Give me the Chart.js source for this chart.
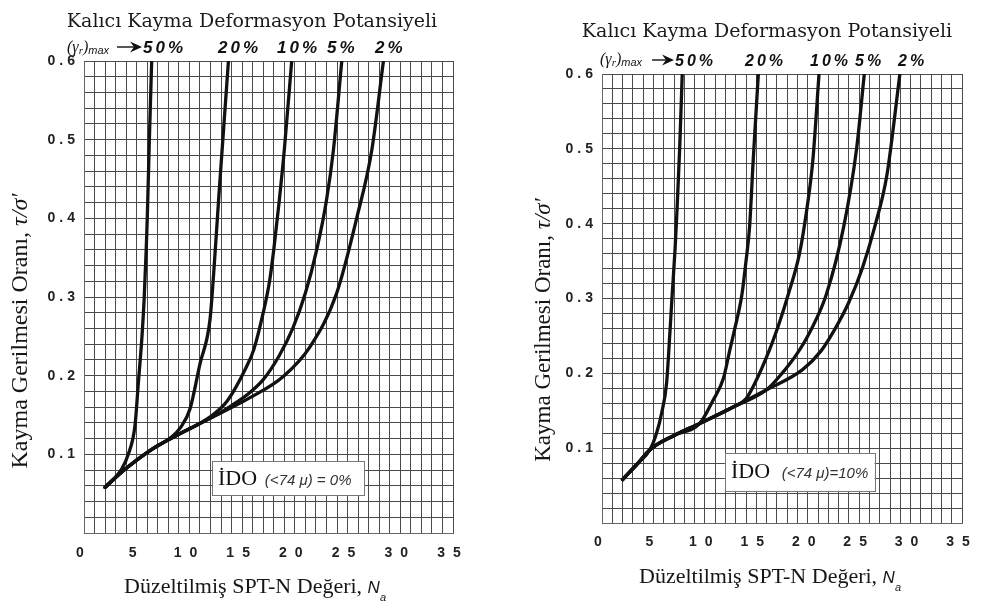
<!DOCTYPE html>
<html><head><meta charset="utf-8">
<script src="https://cdn.jsdelivr.net/npm/chart.js@4"></script>
<style>
html,body{margin:0;padding:0;background:#fff;width:981px;height:604px;overflow:hidden}
.box{position:absolute;top:0;height:604px}
#b1{left:0;width:490px}
#b2{left:490px;width:491px}
canvas{display:block}
</style></head><body>
<div class="box" id="b1"><canvas id="c1" width="490" height="604"></canvas></div>
<div class="box" id="b2"><canvas id="c2" width="491" height="604"></canvas></div>
<script>
// ---- data ----
const curveLabels = ['50%', '20%', '10%', '5%', '2%'];
const xTickLabels = ['0', '5', '10', '15', '20', '25', '30', '35'];
const yTickLabels = ['0.1', '0.2', '0.3', '0.4', '0.5', '0.6'];
const fineLabels = ['İDO', '(<74 μ) = 0%', '(<74 μ)=10%'];

// left chart: İDO (<74 μ) = 0%   [N_a, τ/σ']
const left50 = [[2,0.058],[3.6,0.082],[4.2,0.1],[4.84,0.137],[5.15,0.19],[5.5,0.25],[5.7,0.296],[5.9,0.36],[6.0,0.4],[6.2,0.5],[6.42,0.6]];
const left20 = [[2,0.058],[3.8,0.08],[6.33,0.1055],[8.3,0.122],[9.2,0.135],[10.06,0.158],[11.0,0.215],[11.95,0.271],[12.3,0.33],[12.8,0.43],[13.7,0.6]];
const left10 = [[2,0.058],[3.8,0.08],[6.33,0.1055],[8.86,0.1246],[12,0.148],[13.6,0.168],[15.4,0.211],[16.1,0.233],[17.0,0.28],[17.6,0.32],[18.0,0.36],[18.5,0.42],[19.0,0.487],[19.7,0.6]];
const left5 = [[2,0.058],[3.8,0.08],[6.33,0.1055],[8.86,0.1246],[12,0.146],[14,0.162],[15.4,0.175],[17.0,0.195],[18.5,0.225],[19.8,0.26],[21.0,0.305],[22.07,0.36],[23.0,0.423],[23.66,0.487],[24.45,0.6]];
const left2 = [[2,0.058],[3.8,0.08],[6.33,0.1055],[8.86,0.1246],[12,0.146],[15.75,0.172],[18.9,0.199],[21.45,0.237],[23.97,0.305],[25.9,0.402],[27.3,0.487],[28.4,0.6]];

// right chart: İDO (<74 μ) = 10%
const right50 = [[2,0.058],[3.5,0.08],[4.66,0.098],[5.3,0.12],[5.8,0.147],[6.28,0.187],[6.6,0.254],[6.8,0.3],[7.1,0.365],[7.3,0.42],[7.55,0.5],[7.8,0.6]];
const right20 = [[2,0.058],[3.5,0.08],[4.66,0.098],[7,0.117],[9.5,0.133],[10.8,0.164],[11.8,0.193],[12.44,0.232],[13.0,0.265],[13.6,0.305],[14.0,0.35],[14.35,0.396],[14.7,0.485],[15.2,0.6]];
const right10 = [[2,0.058],[3.5,0.08],[4.66,0.098],[7,0.117],[9.5,0.133],[12.76,0.155],[14.0,0.166],[14.87,0.187],[16.3,0.232],[17.3,0.27],[18.1,0.305],[19.2,0.36],[19.9,0.418],[20.5,0.485],[21.1,0.6]];
const right5 = [[2,0.058],[3.5,0.08],[4.66,0.098],[7,0.117],[9.5,0.133],[12.76,0.155],[16.0,0.178],[17.5,0.2],[18.9,0.225],[20.2,0.255],[21.8,0.305],[23.5,0.396],[24.75,0.5],[25.5,0.6]];
const right2 = [[2,0.058],[3.5,0.08],[4.66,0.098],[7,0.117],[9.5,0.133],[12.76,0.155],[16,0.178],[19.5,0.205],[21.3,0.23],[22.6,0.258],[24.0,0.295],[25.3,0.34],[26.5,0.395],[27.7,0.465],[28.96,0.6]];

// ---- helpers ----
function richWidth(ctx, parts){
  let w = 0;
  for (const p of parts){ ctx.font = p.font; ctx.letterSpacing = (p.ls||0)+'px'; w += ctx.measureText(p.t).width; }
  ctx.letterSpacing = '0px';
  return w;
}
function drawRich(ctx, x, y, parts, align){
  const w = richWidth(ctx, parts);
  let cx = align === 'center' ? x - w/2 : x;
  for (const p of parts){
    ctx.font = p.font; ctx.letterSpacing = (p.ls||0)+'px';
    ctx.fillStyle = p.color || '#161616';
    ctx.textAlign = 'left'; ctx.textBaseline = 'alphabetic';
    ctx.fillText(p.t, cx, y + (p.dy||0));
    cx += ctx.measureText(p.t).width;
  }
  ctx.letterSpacing = '0px';
}

const decoPlugin = {
  id: 'deco',
  beforeDraw(chart, args, o){
    for (const id of Object.keys(chart.scales)){
      const s = chart.scales[id];
      if (s._lsPatched) continue;
      const orig = s.drawLabels;
      const ls = (o.tickLS && o.tickLS[id]) || 0;
      s.drawLabels = function(area){
        const c = this.ctx; c.save(); c.letterSpacing = ls + 'px';
        orig.call(this, area); c.restore(); c.letterSpacing = '0px';
      };
      s._lsPatched = true;
    }
  },
  afterDatasetsDraw(chart, args, o){
    const ctx = chart.ctx, xs = chart.scales.x, ys = chart.scales.y;
    const b = o.box;
    const x0 = xs.getPixelForValue(b.n0), x1 = xs.getPixelForValue(b.n1);
    const y0 = ys.getPixelForValue(b.t1), y1 = ys.getPixelForValue(b.t0);
    ctx.save();
    ctx.fillStyle = '#fff'; ctx.fillRect(x0, y0, x1-x0, y1-y0);
    ctx.strokeStyle = '#777'; ctx.lineWidth = 1;
    ctx.strokeRect(Math.round(x0)+0.5, Math.round(y0)+0.5, Math.round(x1-x0), Math.round(y1-y0));
    drawRich(ctx, x0 + 6, b.base, [
      {t: fineLabels[0], font: '22px "Liberation Serif"', color:'#111'},
      {t: b.gap, font: '14px "Liberation Sans"'},
      {t: b.text, font: 'italic 15px "Liberation Sans"', color:'#333'}
    ], 'left');
    ctx.restore();
  },
  afterDraw(chart, args, o){
    const ctx = chart.ctx;
    ctx.save();
    drawRich(ctx, o.title.x, o.title.y, [{t:'Kalıcı Kayma Deformasyon Potansiyeli', font: o.title.font, color:'#1a1a1a'}], 'center');
    const g = o.gamma;
    drawRich(ctx, g.x, g.y, [
      {t:'(γ', font:'italic 16px "Liberation Serif"'},
      {t:'r', font:'italic 11px "Liberation Serif"', dy:2},
      {t:')', font:'italic 16px "Liberation Serif"'},
      {t:'max', font:'italic 11px "Liberation Sans"', dy:2}
    ], 'left');
    ctx.strokeStyle = '#111'; ctx.fillStyle = '#111'; ctx.lineWidth = 1.4;
    ctx.beginPath(); ctx.moveTo(g.ax0, g.ay); ctx.lineTo(g.ax1 - 8, g.ay); ctx.stroke();
    ctx.beginPath(); ctx.moveTo(g.ax1, g.ay); ctx.lineTo(g.ax1 - 12, g.ay - 5.5); ctx.lineTo(g.ax1 - 8, g.ay); ctx.lineTo(g.ax1 - 12, g.ay + 5.5); ctx.closePath(); ctx.fill();
    curveLabels.forEach((t, i) => {
      drawRich(ctx, o.pct.x[i], o.pct.y, [{t, font: o.pct.font, ls: o.pct.ls, color:'#111'}], 'left');
    });
    ctx.save();
    ctx.translate(o.ytitle.x, o.ytitle.y);
    ctx.rotate(-Math.PI/2);
    drawRich(ctx, 0, 0, [
      {t:'Kayma Gerilmesi Oranı, ', font: o.ytitle.size + 'px "Liberation Serif"'},
      {t:'τ/σ′', font: 'italic ' + o.ytitle.size + 'px "Liberation Serif"'}
    ], 'center');
    ctx.restore();
    drawRich(ctx, o.xtitle.x, o.xtitle.y, [
      {t:'Düzeltilmiş SPT-N Değeri, ', font: o.xtitle.size + 'px "Liberation Serif"'},
      {t:'N', font:'italic 17px "Liberation Sans"'},
      {t:'a', font:'italic 11px "Liberation Sans"', dy:8}
    ], 'center');
    ctx.restore();
  }
};

function makeConfig(series, lay, deco){
  const datasets = series.map((d, i) => ({
    label: curveLabels[i], data: d, showLine: true,
    borderColor: '#111', borderWidth: 3.3, pointRadius: 0,
    cubicInterpolationMode: 'monotone', borderCapStyle: 'round', borderJoinStyle: 'round', fill: false
  }));
  const gridCol = '#4a4a4a';
  return {
    type: 'scatter',
    data: { datasets },
    plugins: [decoPlugin],
    options: {
      responsive: false, animation: false, events: [],
      layout: { padding: lay.padding },
      plugins: { legend: {display:false}, tooltip: {enabled:false}, title:{display:false}, deco },
      scales: {
        x: {
          type: 'linear', min: 0, max: 35,
          afterFit: s => { s.height = lay.xh; },
          grid: { color: gridCol, lineWidth: 1, drawTicks: false },
          border: { color: '#666', width: 1 },
          ticks: {
            stepSize: 1, maxTicksLimit: 200, autoSkip: false, maxRotation: 0,
            padding: lay.xpad, color: '#222',
            font: { family: '"Liberation Sans"', size: 14, weight: 'bold' },
            callback: v => {
              if (Math.abs(v - Math.round(v)) > 1e-6) return '';
              const s = String(Math.round(v));
              return xTickLabels.includes(s) ? s : '';
            }
          }
        },
        y: {
          type: 'linear', min: 0, max: 0.6,
          afterFit: s => { s.width = lay.yw; },
          grid: { color: gridCol, lineWidth: 1, drawTicks: false },
          border: { color: '#666', width: 1 },
          ticks: {
            stepSize: 0.02, maxTicksLimit: 200, autoSkip: false,
            padding: 5, color: '#222',
            font: { family: '"Liberation Sans"', size: 14, weight: 'bold' },
            callback: v => {
              if (Math.abs(v*10 - Math.round(v*10)) > 1e-6) return '';
              const s = v.toFixed(1);
              return yTickLabels.includes(s) ? s : '';
            }
          }
        }
      }
    }
  };
}

new Chart(document.getElementById('c1'), makeConfig(
  [left50, left20, left10, left5, left2],
  { padding: {left:0, right:37, top:61, bottom:0}, xh: 71, yw: 84, xpad: 12 },
  {
    tickLS: { x: 8, y: 4 },
    title: { x: 252, y: 27, font: '19px "DejaVu Serif"' },
    gamma: { x: 67, y: 52, ax0: 117, ax1: 142, ay: 47 },
    pct: { x: [143, 218, 277, 327, 375], y: 53, font: 'italic bold 17px "Liberation Sans"', ls: 3 },
    ytitle: { x: 27, y: 331, size: 24 },
    xtitle: { x: 255, y: 593, size: 22 },
    box: { n0: 12.14, n1: 26.6, t0: 0.048, t1: 0.0915, base: 485, gap: '  ', text: fineLabels[1] }
  }
));

new Chart(document.getElementById('c2'), makeConfig(
  [right50, right20, right10, right5, right2],
  { padding: {left:0, right:19, top:74, bottom:0}, xh: 81, yw: 112, xpad: 11 },
  {
    tickLS: { x: 8, y: 4 },
    title: { x: 277, y: 37, font: '19px "DejaVu Serif"' },
    gamma: { x: 110, y: 64, ax0: 162, ax1: 184, ay: 60 },
    pct: { x: [185, 255, 320, 365, 408], y: 66, font: 'italic bold 16px "Liberation Sans"', ls: 3 },
    ytitle: { x: 60, y: 330, size: 23 },
    xtitle: { x: 280, y: 583, size: 22 },
    box: { n0: 11.95, n1: 26.5, t0: 0.0428, t1: 0.0936, base: 478, gap: '   ', text: fineLabels[2] }
  }
));
</script>
</body></html>
